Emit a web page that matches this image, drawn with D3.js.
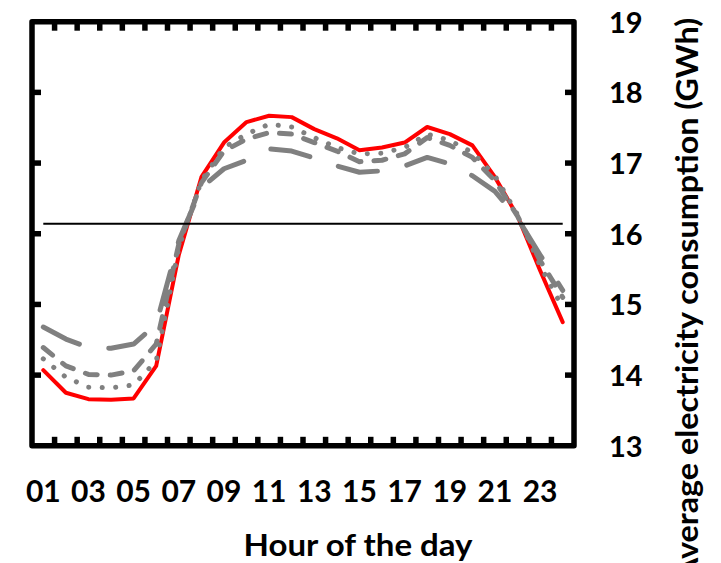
<!DOCTYPE html>
<html>
<head>
<meta charset="utf-8">
<script src="https://cdn.jsdelivr.net/npm/d3@7/dist/d3.min.js"></script>
<style>
  html, body { margin: 0; padding: 0; background: #fff; }
  svg { display: block; }
  text { font-family: Lato, "Open Sans", sans-serif; font-weight: bold; fill: #000; }
</style>
</head>
<body>
<svg id="chart" width="721" height="563"></svg>
<script>
// Hours of the day (categories)
const hours = ["01","02","03","04","05","06","07","08","09","10","11","12",
               "13","14","15","16","17","18","19","20","21","22","23","24"];
const hourTickLabels = ["01","03","05","07","09","11","13","15","17","19","21","23"];
const valueTicks = [13, 14, 15, 16, 17, 18, 19];

// Average hourly consumption (GWh)
const solidRed = [14.07, 13.75, 13.66, 13.65, 13.67, 14.13, 15.70, 16.80, 17.29, 17.58, 17.67, 17.65,
                  17.48, 17.35, 17.18, 17.22, 17.29, 17.51, 17.41, 17.25, 16.80, 16.25, 15.48, 14.75];
const dottedGrey = [14.23, 13.97, 13.83, 13.82, 13.86, 14.20, 15.80, 16.75, 17.22, 17.41, 17.55, 17.51,
                    17.36, 17.22, 17.13, 17.14, 17.22, 17.41, 17.32, 17.15, 16.82, 16.27, 15.55, 14.95];
const dashedGrey = [14.39, 14.13, 14.01, 14.00, 14.06, 14.44, 15.85, 16.72, 17.17, 17.34, 17.43, 17.41,
                    17.29, 17.17, 17.02, 17.04, 17.13, 17.36, 17.25, 17.08, 16.75, 16.25, 15.62, 15.10];
const longDashGrey = [14.68, 14.51, 14.39, 14.38, 14.44, 14.72, 15.90, 16.65, 16.92, 17.04, 17.20, 17.17,
                      17.07, 16.96, 16.87, 16.89, 16.96, 17.08, 16.99, 16.82, 16.60, 16.22, 15.70, 15.20];
// Daily mean level
const meanLevel = hours.map(() => 16.14);

const svg = d3.select("#chart");
const plotLeft = 32, plotRight = 574, plotTop = 21.7, plotBottom = 445.8;

const x = d3.scaleBand().domain(hours).range([plotLeft, plotRight]).paddingInner(0).paddingOuter(0);
const xc = h => x(h) + x.bandwidth() / 2;
const y = d3.scaleLinear().domain([13, 19]).range([plotBottom, plotTop]);

const line = d3.line().x((d, i) => xc(hours[i])).y(d => y(d));

// Series
const series = [
  { values: solidRed,     color: "#ff0000", width: 4,   dash: null },
  { values: longDashGrey, color: "#808080", width: 5,   dash: "40 30" },
  { values: dashedGrey,   color: "#808080", width: 5,   dash: "12 13" },
  { values: dottedGrey,   color: "#808080", width: 5,   dash: "0.1 13.4" }
];
svg.append("g").selectAll("path").data(series).join("path")
  .attr("d", s => line(s.values))
  .attr("fill", "none")
  .attr("stroke", s => s.color)
  .attr("stroke-width", s => s.width)
  .attr("stroke-linecap", "round")
  .attr("stroke-linejoin", "round")
  .attr("stroke-dasharray", s => s.dash);

svg.append("path")
  .attr("d", line(meanLevel))
  .attr("fill", "none")
  .attr("stroke", "#000")
  .attr("stroke-width", 2);

// Frame with inward ticks
const frame = svg.append("g").attr("stroke", "#000").attr("stroke-width", 5.5);
frame.append("rect")
  .attr("x", plotLeft).attr("y", plotTop)
  .attr("width", plotRight - plotLeft).attr("height", plotBottom - plotTop)
  .attr("fill", "none").attr("stroke-linejoin", "round");

const boundaries = hours.slice(1).map(h => x(h));
const tickLen = 9;
frame.selectAll(".tb").data(boundaries).join("line")
  .attr("x1", d => d).attr("x2", d => d)
  .attr("y1", plotTop).attr("y2", plotTop + tickLen);
frame.selectAll(".bb").data(boundaries).join("line")
  .attr("x1", d => d).attr("x2", d => d)
  .attr("y1", plotBottom).attr("y2", plotBottom - tickLen);
const innerValues = valueTicks.slice(1, -1);
frame.selectAll(".lt").data(innerValues).join("line")
  .attr("x1", plotLeft).attr("x2", plotLeft + tickLen)
  .attr("y1", d => y(d)).attr("y2", d => y(d));
frame.selectAll(".rt").data(innerValues).join("line")
  .attr("x1", plotRight).attr("x2", plotRight - tickLen)
  .attr("y1", d => y(d)).attr("y2", d => y(d));

// Hour labels
const xAxis = d3.axisBottom(x).tickValues(hourTickLabels).tickSize(0).tickPadding(0);
const gx = svg.append("g").attr("transform", `translate(0,${plotBottom})`).call(xAxis);
gx.select(".domain").remove();
gx.selectAll("text")
  .attr("y", 56).attr("dy", null)
  .style("font-size", "30px").style("font-family", "Lato, sans-serif").style("font-weight", "bold");

// Value labels on the right
const yAxis = d3.axisRight(y).tickValues(valueTicks).tickFormat(d3.format("d")).tickSize(0).tickPadding(0);
const gy = svg.append("g").attr("transform", `translate(609,0)`).call(yAxis);
gy.select(".domain").remove();
gy.selectAll("text")
  .attr("x", 0).attr("dy", "0.36em")
  .style("font-size", "29px").style("font-family", "Lato, sans-serif").style("font-weight", "bold");

// Axis titles
svg.append("text")
  .attr("x", 358).attr("y", 556)
  .attr("text-anchor", "middle")
  .attr("textLength", 229)
  .attr("lengthAdjust", "spacingAndGlyphs")
  .style("font-size", "31px")
  .text("Hour of the day");

svg.append("text")
  .attr("transform", "translate(698,18) rotate(-90)")
  .attr("text-anchor", "end")
  .attr("textLength", 562)
  .attr("lengthAdjust", "spacingAndGlyphs")
  .style("font-size", "31px")
  .text("Average electricity consumption (GWh)");
</script>
</body>
</html>
